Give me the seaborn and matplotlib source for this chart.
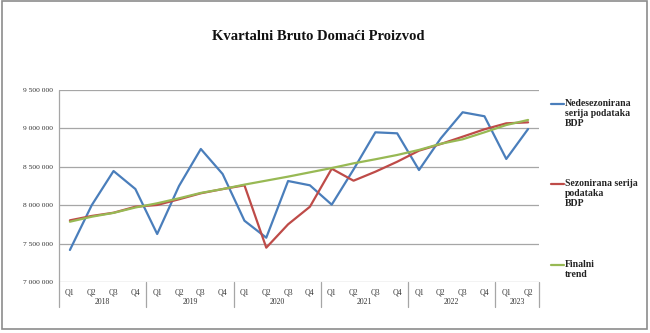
import matplotlib
matplotlib.use("Agg")
import matplotlib.pyplot as plt
from matplotlib.lines import Line2D
from matplotlib.patches import Rectangle
import matplotlib.transforms as mtransforms
import seaborn as sns
import pandas as pd

years = ["2018", "2019", "2020", "2021", "2022", "2023"]
quarters_per_year = [4, 4, 4, 4, 4, 2]
quarter_labels = ["Q1", "Q2", "Q3", "Q4"] * 5 + ["Q1", "Q2"]

nesezonirana = [7417000, 8000000, 8445000, 8211000,
                7625000, 8250000, 8732000, 8406000,
                7798000, 7577000, 8315000, 8259000,
                8007000, 8465000, 8949000, 8936000,
                8458000, 8871000, 9210000, 9158000,
                8602000, 8992000]
sezonirana = [7803000, 7860000, 7902000, 7980000,
              8003000, 8077000, 8155000, 8210000,
              8259000, 7447000, 7751000, 7980000,
              8475000, 8319000, 8436000, 8566000,
              8710000, 8797000, 8892000, 8988000,
              9066000, 9079000]
trend = [7785000, 7850000, 7900000, 7970000,
         8025000, 8090000, 8160000, 8210000,
         8268000, 8320000, 8372000, 8428000,
         8484000, 8545000, 8598000, 8654000,
         8720000, 8800000, 8858000, 8949000,
         9044000, 9110000]

series_names = ["Nedesezonirana\nserija podataka\nBDP",
                "Sezonirana serija\npodataka\nBDP",
                "Finalni\ntrend"]
colors = ["#4a7ebb", "#be4b48", "#98b954"]
y_ticks = [7000000, 7500000, 8000000, 8500000, 9000000, 9500000]

n = len(quarter_labels)
df = pd.concat([
    pd.DataFrame({"idx": range(n), "value": vals, "serija": name})
    for name, vals in zip(series_names, [nesezonirana, sezonirana, trend])
])

sns.set_theme(style="white")
serif = ["Liberation Serif", "DejaVu Serif"]
plt.rcParams["font.family"] = serif

fig = plt.figure(figsize=(6.5, 3.33), dpi=100)
ax = fig.add_axes([59 / 650, 1 - 282 / 333, 480 / 650, 192 / 333])

sns.lineplot(data=df, x="idx", y="value", hue="serija", palette=colors,
             linewidth=1.6, legend=False, ax=ax, sort=False)

ax.set_xlim(-0.5, n - 0.5)
ax.set_ylim(y_ticks[0], y_ticks[-1])
ax.set_yticks(y_ticks)
ax.set_yticklabels([f"{v:,}".replace(",", " ") for v in y_ticks],
                   fontsize=5.4, color="#333333")
ax.yaxis.grid(True, color="#a6a6a6", linewidth=0.9)
ax.set_axisbelow(True)
ax.tick_params(axis="y", length=0, pad=4)
ax.tick_params(axis="x", length=0, pad=5)
ax.set_xticks(range(n))
ax.set_xticklabels(quarter_labels, fontsize=5.6, color="#333333")
ax.set_xlabel("")
ax.set_ylabel("")
for side in ["top", "right", "bottom", "left"]:
    ax.spines[side].set_visible(False)

# multi-level category axis: separators and year labels
trans = mtransforms.blended_transform_factory(ax.transData, ax.transAxes)
bounds = [-0.5]
for q in quarters_per_year:
    bounds.append(bounds[-1] + q)
for b in bounds:
    top = 1.0 if b == -0.5 else 0.0
    ax.add_line(Line2D([b, b], [top, -0.128], transform=trans,
                       color="#a6a6a6", linewidth=0.9, clip_on=False))
for y_lbl, start, end in zip(years, bounds[:-1], bounds[1:]):
    ax.text((start + end) / 2, -0.104, y_lbl, transform=trans,
            ha="center", va="center", fontsize=5.6, color="#333333")

# title
fig.text(318 / 650, 1 - 37 / 333, "Kvartalni Bruto Domaći Proizvod",
         ha="center", va="center", fontsize=10.5, fontweight="bold",
         family=serif, color="#111111")

# legend
legend_y = [104, 184, 265]
for color, name, ly in zip(colors, series_names, legend_y):
    fig.add_artist(Line2D([551 / 650, 564 / 650], [1 - ly / 333] * 2,
                          transform=fig.transFigure, color=color, linewidth=1.6))
    fig.text(565 / 650, 1 - (ly - 5) / 333, name, ha="left", va="top",
             fontsize=7, fontweight="bold", family=serif, color="#222222",
             linespacing=1.15)

# outer frame
fig.add_artist(Rectangle((2 / 650, 1 - 329 / 333), 645 / 650, 328 / 333,
                         transform=fig.transFigure, fill=False,
                         edgecolor="#8c8c8c", linewidth=1.2))

fig.savefig("out.png", dpi=100)
